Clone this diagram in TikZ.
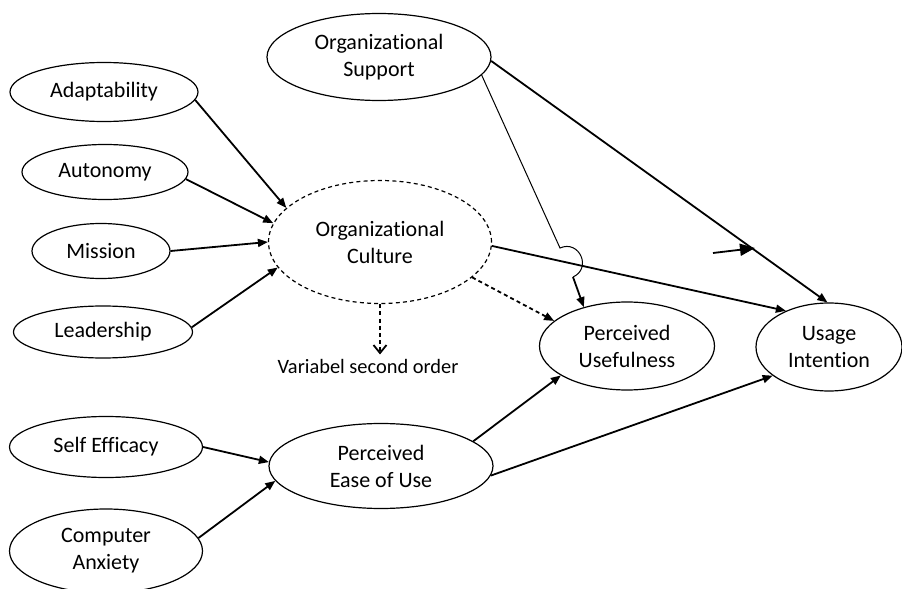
\documentclass[tikz,border=0pt]{standalone}
\usepackage{fontspec}
\setmainfont{Carlito}[Ligatures=NoCommon]
\usetikzlibrary{positioning,arrows.meta,shapes.geometric}

\begin{document}
\begin{tikzpicture}[
  x=0.5pt, y=-0.5pt,
  latent/.style={draw, ellipse, line width=0.6pt, inner sep=0pt, align=center, font=\fontsize{11}{13.5}\selectfont},
  pil/.style={-{Triangle[length=5pt, width=4pt]}, line width=0.9pt},
  stiplet/.style={dash pattern=on 2pt off 1.6pt}
]
\useasboundingbox (0,0) rectangle (902,589);
% constructs
\node[latent, minimum width=112pt, minimum height=43.5pt] (stotte) at (379,57) {Organizational\\Support};
\node[latent, minimum width=94pt, minimum height=29.5pt] (adapt) at (104,92) {Adaptability};
\node[latent, minimum width=83pt, minimum height=27.5pt] (otonomi) at (105,172) {Autonomy};
\node[latent, minimum width=69pt, minimum height=27.5pt] (misi) at (101,251) {Mission};
\node[latent, minimum width=89.5pt, minimum height=26pt] (pimpin) at (103,332) {Leadership};
\node[latent, stiplet, minimum width=111.5pt, minimum height=61.5pt] (budaya) at (380,242) {Organizational\\Culture};
\node[font=\fontsize{10.2}{12}\selectfont, inner sep=2pt] (orde) at (368,366) {Variabel second order};
\node[latent, minimum width=87.5pt, minimum height=44pt] (pu) at (627,346) {Perceived\\Usefulness};
\node[latent, minimum width=73pt, minimum height=44pt] (niat) at (829,347) {Usage\\Intention};
\node[latent, minimum width=96.5pt, minimum height=30.5pt] (efikasi) at (106,447) {Self Efficacy};
\node[latent, minimum width=112pt, minimum height=42.5pt] (peou) at (381,466) {Perceived\\Ease of Use};
\node[latent, minimum width=96.5pt, minimum height=42pt] (cemas) at (106,551) {Computer\\Anxiety};

% first order dimensions to culture
\draw[pil] (adapt.-5) -- (budaya.160);
\draw[pil] (otonomi.-5) -- (budaya.170);
\draw[pil] (misi.east) -- (budaya.180);
\draw[pil] (pimpin.3) -- (budaya.194);
\draw[line width=0.9pt, stiplet, -{Straight Barb[length=4pt, width=6.5pt]}] (budaya.south) -- (budaya.south |- orde.north);

% ease of use
\draw[pil] (efikasi.east) -- (peou.178);
\draw[pil] (cemas.8) -- (peou.188);
\draw[pil] (peou.15) -- (pu.204);
\draw[pil] (peou.-5) -- (niat.207);

% culture and support
\draw[pil, stiplet] (budaya.-21) -- (pu.161);
\draw[pil] (budaya.-2) -- (niat.140);
\draw[pil] (stotte.-2) -- (niat.92);
\coordinate (hopp1) at (560,248);
\coordinate (hopp2) at (573,277);
\draw[line width=0.5pt] (stotte.-10) -- (hopp1) to[out=24, in=24, looseness=1.7] (hopp2);
\draw[pil] (hopp2) -- (pu.138);
\coordinate (lepas1) at (713,253);
\coordinate (lepas2) at (755,248);
\draw[-{Triangle[length=7.5pt, width=6pt]}, line width=0.9pt] (lepas1) -- (lepas2);
\end{tikzpicture}
\end{document}
